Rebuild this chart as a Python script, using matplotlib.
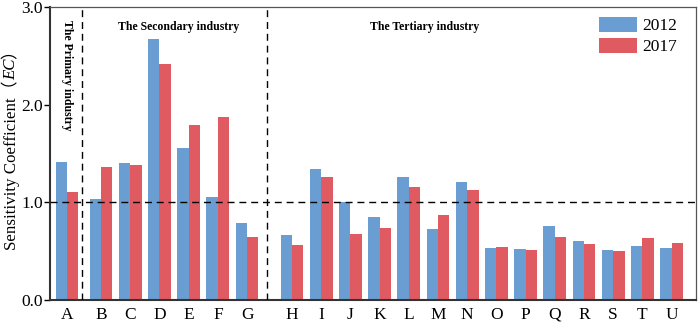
import numpy as np
import matplotlib
matplotlib.use("Agg")
import matplotlib.pyplot as plt

plt.rcParams['font.family'] = ['Liberation Serif', 'Noto Sans CJK SC', 'DejaVu Sans']

# data
sectors = ['A', 'B', 'C', 'D', 'E', 'F', 'G', 'H', 'I', 'J', 'K',
           'L', 'M', 'N', 'O', 'P', 'Q', 'R', 'S', 'T', 'U']
group_of_sector = [0, 1, 1, 1, 1, 1, 1, 2, 2, 2, 2,
                   2, 2, 2, 2, 2, 2, 2, 2, 2, 2]
ec_2012 = [1.41, 1.03, 1.40, 2.67, 1.555, 1.06, 0.785, 0.67, 1.34, 1.00, 0.855,
           1.255, 0.73, 1.21, 0.53, 0.52, 0.755, 0.605, 0.51, 0.555, 0.535]
ec_2017 = [1.11, 1.365, 1.38, 2.42, 1.79, 1.875, 0.645, 0.565, 1.265, 0.675, 0.74,
           1.155, 0.875, 1.13, 0.545, 0.51, 0.65, 0.575, 0.50, 0.63, 0.585]
group_names = ['The Primary industry', 'The Secondary industry', 'The Tertiary industry']
years = ['2012', '2017']
ylabel_parts = ['Sensitivity Coefficient（', 'EC', '）']

blue = '#6A9ED2'
red = '#E05A62'
group_gap = [0.0, 0.17, 0.71]

x = np.arange(len(sectors)) + np.array([group_gap[g] for g in group_of_sector])
w = 0.39

fig = plt.figure(figsize=(6.99, 3.25), dpi=100)
ax = fig.add_axes([0.0715, 0.077, 0.924, 0.901])

ax.bar(x - w / 2, ec_2012, width=w, color=blue, label=years[0])
ax.bar(x + w / 2, ec_2017, width=w, color=red, label=years[1])

ax.axhline(1.0, color='black', lw=1.0, ls=(0, (5, 3.5)), zorder=3)
for xd in [0.52, 6.85]:
    ax.axvline(xd, color='black', lw=1.0, ls=(0, (5, 3.5)), zorder=3)

ax.set_xlim(-0.58, 21.54)
ax.set_ylim(0, 3.0)
ax.set_yticks([0, 1, 2, 3])
ax.set_yticklabels(['0.0', '1.0', '2.0', '3.0'], fontsize=12.5)
ax.set_xticks(x)
ax.set_xticklabels(sectors, fontsize=12.5)
ax.tick_params(axis='x', length=0, pad=5)
ax.tick_params(axis='y', length=4, width=1, direction='out', pad=1)

for side in ['top', 'right']:
    ax.spines[side].set_color('#555555')
    ax.spines[side].set_linewidth(0.9)
for side in ['bottom', 'left']:
    ax.spines[side].set_color('#333333')
    ax.spines[side].set_linewidth(1.5)

ax.text(0.0, 2.87, group_names[0], rotation=270, ha='center', va='top',
        fontsize=8.5, fontweight='bold')
ax.text(3.82, 2.80, group_names[1], ha='center', va='center',
        fontsize=8.5, fontweight='bold')
ax.text(12.26, 2.80, group_names[2], ha='center', va='center',
        fontsize=8.5, fontweight='bold')

ax.legend(loc='upper left', bbox_to_anchor=(0.85, 0.968), frameon=False,
          fontsize=12.5, handlelength=2.2, handleheight=1.0, labelspacing=0.2,
          handletextpad=0.3, borderpad=0, borderaxespad=0)

# y label built from pieces so EC can be italic next to full-width brackets
fig.canvas.draw()
renderer = fig.canvas.get_renderer()
pieces = []
for i, part in enumerate(ylabel_parts):
    style = 'italic' if i == 1 else 'normal'
    t = fig.text(0.016, 0, part, rotation=90, ha='center', va='bottom',
                 fontsize=12.2, fontstyle=style)
    pieces.append(t)
heights = [t.get_window_extent(renderer).height / fig.bbox.height for t in pieces]
y0 = 0.551 - sum(heights) / 2
for t, h in zip(pieces, heights):
    t.set_y(y0)
    y0 += h

fig.savefig('out.png', dpi=100)
